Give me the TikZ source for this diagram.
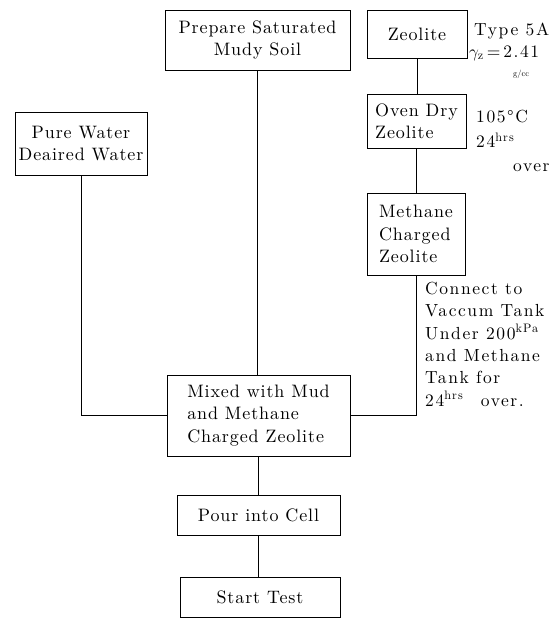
\documentclass[tikz,border=0pt]{standalone}
\usepackage{amsmath}
\usepackage{fontspec}
\setmainfont{lmroman10-regular}[Extension=.otf]
\begin{document}
\begin{tikzpicture}[x=1pt,y=-1pt,
  box/.style={draw,line width=0.9pt,inner sep=0pt,align=center,
    font=\fontsize{18}{22.5}\selectfont\addfontfeature{LetterSpace=5}},
  note/.style={inner sep=0pt,anchor=west,align=left,
    font=\fontsize{17.5}{22.3}\selectfont\addfontfeature{LetterSpace=9}},
  link/.style={line width=0.9pt}]
\useasboundingbox (0,0) rectangle (556,622);
\node[box,minimum width=185,minimum height=60] (prep) at (257.5,40) {Prepare Saturated\\Mudy Soil};
\node[box,minimum width=100,minimum height=48] (zeo) at (417,34) {Zeolite};
\node[box,minimum width=99,minimum height=54,align=left] (oven) at (416.5,121) {Oven Dry\\Zeolite};
\node[box,minimum width=98,minimum height=82,align=left] (meth) at (416,234) {Methane\\Charged\\Zeolite};
\node[box,minimum width=132,minimum height=63] (pure) at (81,143.5) {Pure Water\\Deaired Water};
\node[box,minimum width=183,minimum height=81,align=left] (mix) at (258.5,415.5) {Mixed with Mud\\and Methane\\Charged Zeolite};
\node[box,minimum width=163,minimum height=40] (pour) at (258.5,515) {Pour into Cell};
\node[box,minimum width=160,minimum height=40] (start) at (260,597) {Start Test};

\draw[link] (prep.south) -- (prep.south |- mix.north);
\draw[link] (zeo.south) -- (zeo.south |- oven.north);
\draw[link] (oven.south) -- (oven.south |- meth.north);
\draw[link] (meth.south) -- (meth.south |- mix.east) -- (mix.east);
\draw[link] (pure.south) -- (pure.south |- mix.west) -- (mix.west);
\draw[link] (mix.south) -- (mix.south |- pour.north);
\draw[link] (pour.south) -- (pour.south |- start.north);

\node[note] (t1) at (474,31) {Type 5A};
\node[note] (t2) at (469,53) {$\gamma_{\mathrm{z}}$\,=\,2.41};
\node[note,font=\fontsize{8.5}{10}\selectfont] (t3) at (513,74) {g/cc};
\node[note] (t4) at (476,117) {105\textdegree C};
\node[note] (t5) at (476,140) {24$^{\text{hrs}}$};
\node[note] (t6) at (513,168) {over};
\node[note,anchor=north west] (t7) at (425,282) {Connect to\\Vaccum Tank\\Under 200$^{\text{kPa}}$\\and Methane\\Tank for\\24$^{\text{hrs}}$\quad over.};
\end{tikzpicture}
\end{document}
